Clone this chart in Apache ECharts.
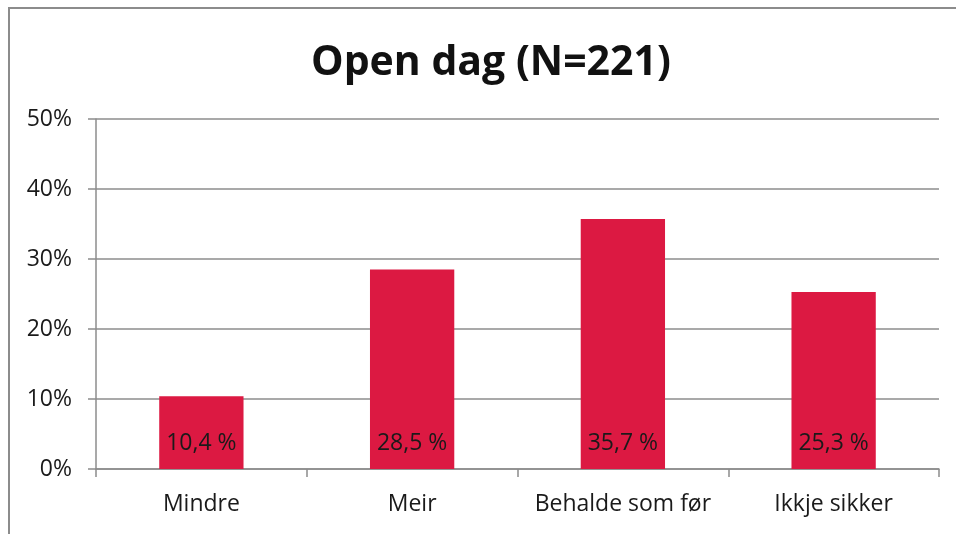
<!DOCTYPE html>
<html>
<head>
<meta charset="utf-8">
<script src="https://cdn.jsdelivr.net/npm/echarts@6/dist/echarts.min.js"></script>
<style>
  html, body { margin: 0; padding: 0; background: #fff; }
  #frame { position: absolute; left: 8px; top: 7px; right: 0; bottom: 0;
    border-top: 2px solid #8c8c8c; border-left: 2px solid #8c8c8c; }
  #chart { position: absolute; left: 0; top: 0; width: 956px; height: 534px; }
</style>
</head>
<body>
<div id="frame"></div>
<div id="chart"></div>
<script>
// kategoriar og verdiar (prosent)
const categories = ['Mindre', 'Meir', 'Behalde som før', 'Ikkje sikker'];
const values = [10.4, 28.5, 35.7, 25.3];
const yTicks = [0, 10, 20, 30, 40, 50];

const font = '"Open Sans", sans-serif';
const chart = echarts.init(document.getElementById('chart'));

chart.setOption({
  animation: false,
  title: {
    text: 'Open dag (N=221)',
    left: 306,
    top: 38,
    textStyle: { fontFamily: font, fontSize: 41, fontWeight: 'bold', color: '#111' }
  },
  grid: { left: 96, right: 17, top: 119, bottom: 65 },
  xAxis: {
    type: 'category',
    data: categories,
    axisLine: { lineStyle: { color: '#8c8c8c', width: 1.5 } },
    axisTick: { show: true, interval: 0, length: 8, lineStyle: { color: '#8c8c8c', width: 1.5 } },
    axisLabel: { interval: 0, hideOverlap: false, fontFamily: font, fontSize: 23, color: '#1a1a1a', margin: 24 }
  },
  yAxis: {
    type: 'value',
    min: yTicks[0],
    max: yTicks[yTicks.length - 1],
    interval: 10,
    axisLine: { show: true, lineStyle: { color: '#8c8c8c', width: 1.5 } },
    axisTick: { show: true, length: 8, lineStyle: { color: '#8c8c8c', width: 1.5 } },
    axisLabel: { fontFamily: font, fontSize: 23, color: '#1a1a1a', margin: 24, formatter: '{value}%' },
    splitLine: { lineStyle: { color: '#8c8c8c', width: 1.5 } }
  },
  series: [{
    type: 'bar',
    data: values,
    barWidth: '40%',
    itemStyle: { color: '#dc1942' },
    label: {
      show: true,
      position: 'insideBottom',
      distance: 14,
      fontFamily: font,
      fontSize: 23,
      color: '#1a1a1a',
      formatter: p => p.value.toFixed(1).replace('.', ',') + ' %'
    }
  }]
});
</script>
</body>
</html>
